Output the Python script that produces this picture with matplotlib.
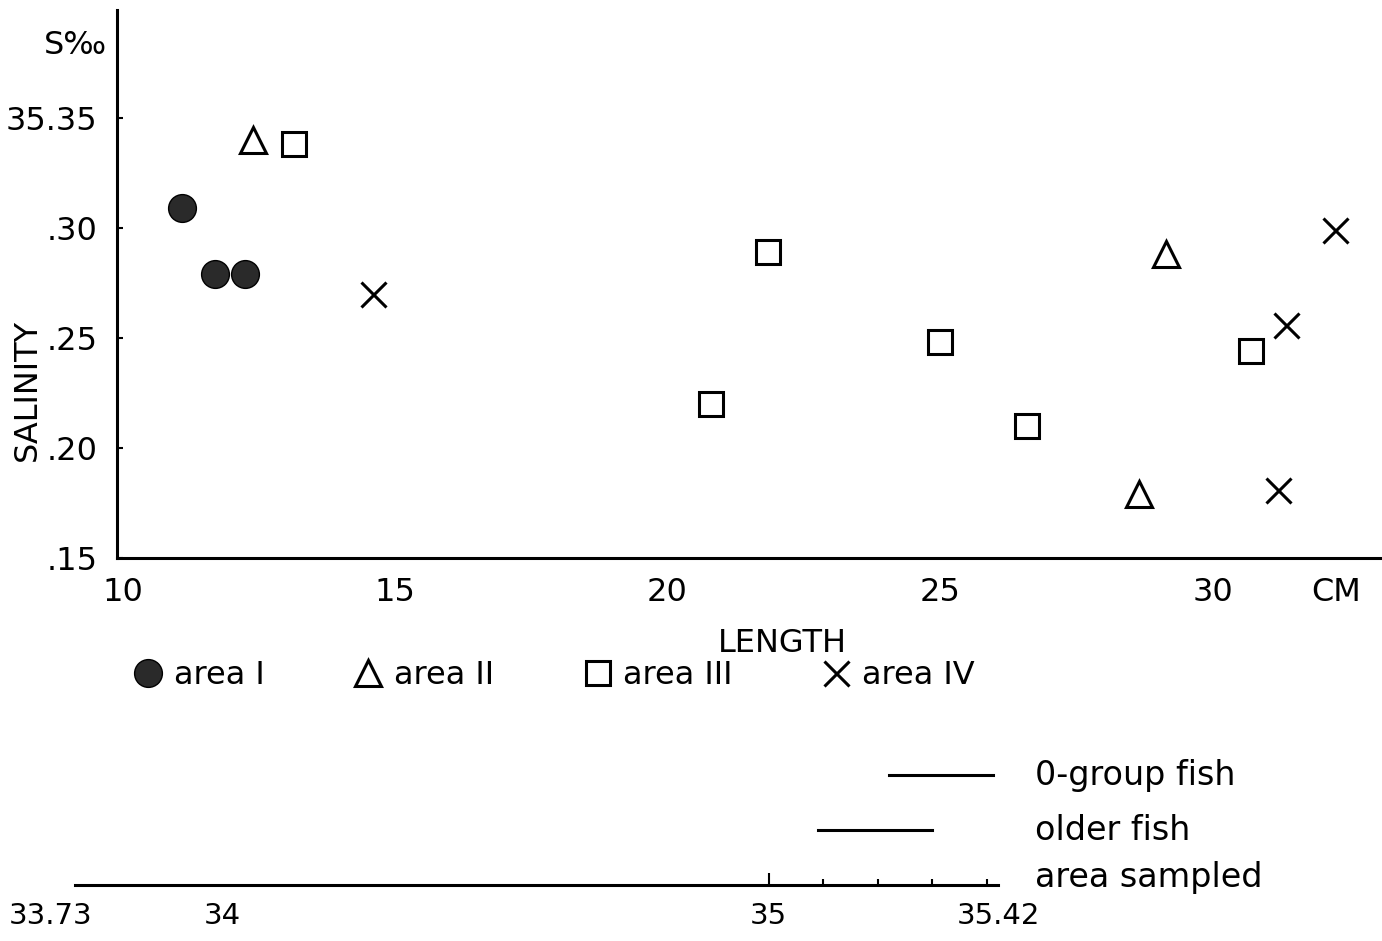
import matplotlib
matplotlib.use("Agg")
import matplotlib.pyplot as plt
import matplotlib.transforms as mtransforms
from matplotlib.lines import Line2D

plt.rcParams['font.family'] = ['DejaVu Sans']

# fish length (cm) and salinity (35.xx per mille, shown as fraction) per area
length_I = [11.1, 11.7, 12.25]
sal_I = [0.309, 0.279, 0.279]
length_II = [12.4, 29.15, 28.65]
sal_II = [0.340, 0.288, 0.179]
length_III = [13.15, 21.85, 20.8, 25.0, 26.6, 30.7]
sal_III = [0.338, 0.289, 0.220, 0.248, 0.210, 0.244]
length_IV = [14.6, 32.25, 31.35, 31.2]
sal_IV = [0.270, 0.299, 0.256, 0.181]

area_labels = ["area I", "area II", "area III", "area IV"]

x_ticks = [10, 15, 20, 25, 30, 32.27]
x_ticklabels = ["10", "15", "20", "25", "30", "CM"]
y_ticks = [0.15, 0.20, 0.25, 0.30, 0.35]
y_ticklabels = [".15", ".20", ".25", ".30", "35.35"]

# salinity ranges (per mille) on the lower scale
range_0group = [35.22, 35.41]
range_older = [35.09, 35.30]
scale_ticks = [33.73, 34, 35, 35.42]
scale_ticklabels = ["33.73", "34", "35", "35.42"]
scale_minor = [35.1, 35.2, 35.3, 35.4]

W, H = 1382, 941
fig = plt.figure(figsize=(W / 100, H / 100), dpi=100)
ax = fig.add_axes([117 / W, 1 - 558 / H, (1380 - 117) / W, (558 - 10) / H])

fs = 23
lw = 2.2
ax.plot(length_I, sal_I, 'o', ms=20, color='#2a2a2a', mec='black', mew=1)
ax.plot(length_II, sal_II, '^', ms=19, mfc='none', mec='black', mew=lw)
ax.plot(length_III, sal_III, 's', ms=17, mfc='none', mec='black', mew=lw)
ax.plot(length_IV, sal_IV, 'x', ms=18, color='black', mew=lw)

ax.set_xlim(9.9, 33.07)
ax.set_ylim(0.15, 0.399)
for s in ['top', 'right']:
    ax.spines[s].set_visible(False)
for s in ['left', 'bottom']:
    ax.spines[s].set_linewidth(lw)
ax.set_xticks(x_ticks)
ax.set_xticklabels(x_ticklabels, fontsize=fs)
ax.set_yticks(y_ticks)
ax.set_yticklabels(y_ticklabels, fontsize=fs)
ax.tick_params(axis='x', length=0, pad=14)
ax.tick_params(axis='y', direction='in', length=4, width=1.5, pad=14)

ax.set_xlabel("LENGTH", fontsize=fs)
ax.xaxis.set_label_coords(0.527, -0.128)
ax.set_ylabel("SALINITY", fontsize=fs, va='center')
ax.yaxis.set_label_coords(-0.071, 0.307)
ax.text(-0.033, 0.936, "S‰", transform=ax.transAxes, fontsize=fs,
        ha='center', va='center')

handles = [
    Line2D([], [], ls='none', marker='o', ms=20, color='#2a2a2a', mec='black'),
    Line2D([], [], ls='none', marker='^', ms=19, mfc='none', mec='black', mew=lw),
    Line2D([], [], ls='none', marker='s', ms=17, mfc='none', mec='black', mew=lw),
    Line2D([], [], ls='none', marker='x', ms=18, color='black', mew=lw),
]
fig.legend(handles, area_labels, loc='center left',
           bbox_to_anchor=(132 / W, 1 - 676 / H), ncol=4, frameon=False,
           fontsize=fs, handlelength=1, handletextpad=0.3,
           columnspacing=2.75, borderpad=0, borderaxespad=0)

# lower salinity scale with sampled ranges
ax2 = fig.add_axes([75 / W, 1 - 885 / H, (998 - 75) / W, 125 / H])
ax2.set_xlim(33.73, 35.42)
ax2.set_ylim(0, 125 / 55)
for s in ['top', 'right', 'left']:
    ax2.spines[s].set_visible(False)
ax2.spines['bottom'].set_linewidth(lw)
ax2.set_yticks([])
ax2.set_xticks(scale_ticks)
ax2.set_xticklabels(scale_ticklabels, fontsize=21)
ax2.set_xticks(scale_minor, minor=True)
ax2.tick_params(axis='x', which='major', direction='in', length=9, width=1.5, pad=12)
ax2.tick_params(axis='x', which='minor', direction='in', length=4, width=1.5)
for i, t in enumerate(ax2.xaxis.get_major_ticks()):
    if scale_ticks[i] != 35:
        t.tick1line.set_visible(False)
first = ax2.get_xticklabels()[0]
first.set_ha('left')
first.set_transform(first.get_transform()
                    + mtransforms.ScaledTranslation(-0.66, 0, fig.dpi_scale_trans))

ax2.plot(range_0group, [2, 2], color='black', lw=lw)
ax2.plot(range_older, [1, 1], color='black', lw=lw)
tr = ax2.get_yaxis_transform()
ax2.text(1.04, 2, "0-group fish", transform=tr, fontsize=24, va='center')
ax2.text(1.04, 1, "older fish", transform=tr, fontsize=24, va='center')
ax2.text(1.04, 0.13, "area sampled", transform=tr, fontsize=24, va='center')

fig.savefig("out.png", dpi=100)
